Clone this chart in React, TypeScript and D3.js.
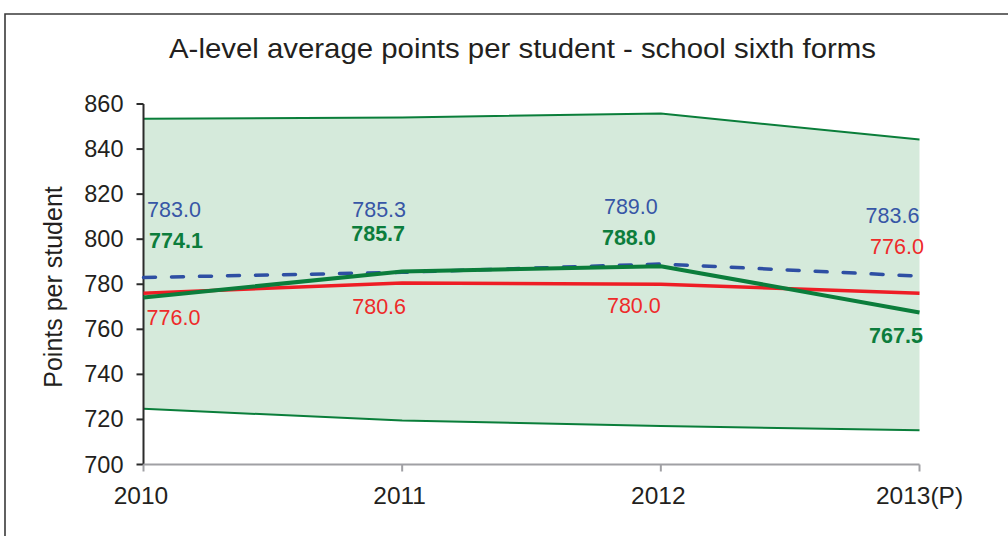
import React from "react";
import * as d3 from "d3";

const categories = ["2010", "2011", "2012", "2013(P)"];
const bandUpper = [853.4, 854.0, 855.8, 844.2];
const bandLower = [724.7, 719.5, 717.1, 715.2];
const nationalValues = [783.0, 785.3, 789.0, 783.6]; // blue dashed
const regionValues = [776.0, 780.6, 780.0, 776.0]; // red
const localValues = [774.1, 785.7, 788.0, 767.5]; // green bold
const yTicks = [700, 720, 740, 760, 780, 800, 820, 840, 860];

// label offsets (dx, dy) from each point
const blueOffsets = [[30.5, -60.5], [-23, -55.5], [-30, -49.5], [-27, -53.5]];
const greenOffsets = [[32.5, -50], [-24, -30], [-32, -21.5], [-23.5, 30.5]];
const redOffsets = [[30, 31.5], [-23, 31], [-27, 28.5], [-22.5, -39.5]];

const W = 1008;
const H = 536;
const FONT = "'Liberation Sans', Arial, sans-serif";

export default function App() {
  const x = d3.scalePoint<string>().domain(categories).range([143.5, 919.5]);
  const y = d3.scaleLinear().domain([700, 860]).range([464.5, 104]);

  const idx = categories.map((_, i) => i);
  const lineGen = (vals: number[]) =>
    d3
      .line<number>()
      .x((i) => x(categories[i])!)
      .y((i) => y(vals[i]))(idx) || "";
  const areaGen =
    d3
      .area<number>()
      .x((i) => x(categories[i])!)
      .y0((i) => y(bandLower[i]))
      .y1((i) => y(bandUpper[i]))(idx) || "";

  const labels = (
    vals: number[],
    offs: number[][],
    color: string,
    bold: boolean
  ) =>
    vals.map((v, i) => (
      <text
        key={i}
        x={x(categories[i])! + offs[i][0]}
        y={y(v) + offs[i][1]}
        textAnchor="middle"
        fontSize={21.5}
        fontWeight={bold ? "bold" : "normal"}
        fill={color}
        fontFamily={FONT}
      >
        {v.toFixed(1)}
      </text>
    ));

  return (
    <svg
      width={W}
      height={H}
      style={{ position: "absolute", left: 0, top: 0, background: "#fff" }}
    >
      <rect x={0} y={0} width={W} height={H} fill="#fff" />
      <path
        d={`M5,${H + 5} L5,14 L${W + 5},14`}
        fill="none"
        stroke="#3a3a3a"
        strokeWidth={1.6}
      />
      <text
        x={522.5}
        y={58}
        textAnchor="middle"
        fontSize={27.5}
        fill="#231f20"
        fontFamily={FONT}
        textLength={707}
        lengthAdjust="spacingAndGlyphs"
      >
        A-level average points per student - school sixth forms
      </text>

      {/* band */}
      <path d={areaGen} fill="#d5eadb" />
      <path d={lineGen(bandUpper)} fill="none" stroke="#0a7e3a" strokeWidth={2} />
      <path d={lineGen(bandLower)} fill="none" stroke="#0a7e3a" strokeWidth={2} />

      {/* y axis */}
      <line x1={143.5} x2={143.5} y1={y(860)} y2={y(700)} stroke="#2b2b2b" strokeWidth={2} />
      {yTicks.map((t) => (
        <g key={t}>
          <line x1={136.5} x2={143.5} y1={y(t)} y2={y(t)} stroke="#2b2b2b" strokeWidth={2} />
          <text
            x={123.5}
            y={y(t) + 8}
            textAnchor="end"
            fontSize={23.5}
            fill="#231f20"
            fontFamily={FONT}
          >
            {t}
          </text>
        </g>
      ))}

      {/* x axis */}
      <line x1={143.5} x2={919.5} y1={y(700)} y2={y(700)} stroke="#a0a0a4" strokeWidth={2} />
      {categories.map((c) => (
        <g key={c}>
          <line x1={x(c)!} x2={x(c)!} y1={y(700)} y2={y(700) + 7} stroke="#a0a0a4" strokeWidth={2} />
          <text
            x={x(c)! - (c === "2013(P)" ? 0 : 2.5)}
            y={503.5}
            textAnchor="middle"
            fontSize={24.5}
            fill="#231f20"
            fontFamily={FONT}
          >
            {c}
          </text>
        </g>
      ))}

      <text
        transform={`translate(62,287) rotate(-90)`}
        textAnchor="middle"
        fontSize={25}
        fill="#231f20"
        fontFamily={FONT}
      >
        Points per student
      </text>

      {/* series */}
      <path
        d={lineGen(nationalValues)}
        fill="none"
        stroke="#2e4fa3"
        strokeWidth={3.5}
        strokeDasharray="12 16"
        strokeLinecap="round"
      />
      <path d={lineGen(regionValues)} fill="none" stroke="#ee1d25" strokeWidth={3.5} />
      <path d={lineGen(localValues)} fill="none" stroke="#0b7d3b" strokeWidth={4} />

      {labels(nationalValues, blueOffsets, "#3756a6", false)}
      {labels(localValues, greenOffsets, "#0c7d3c", true)}
      {labels(regionValues, redOffsets, "#ee2a2a", false)}
    </svg>
  );
}
